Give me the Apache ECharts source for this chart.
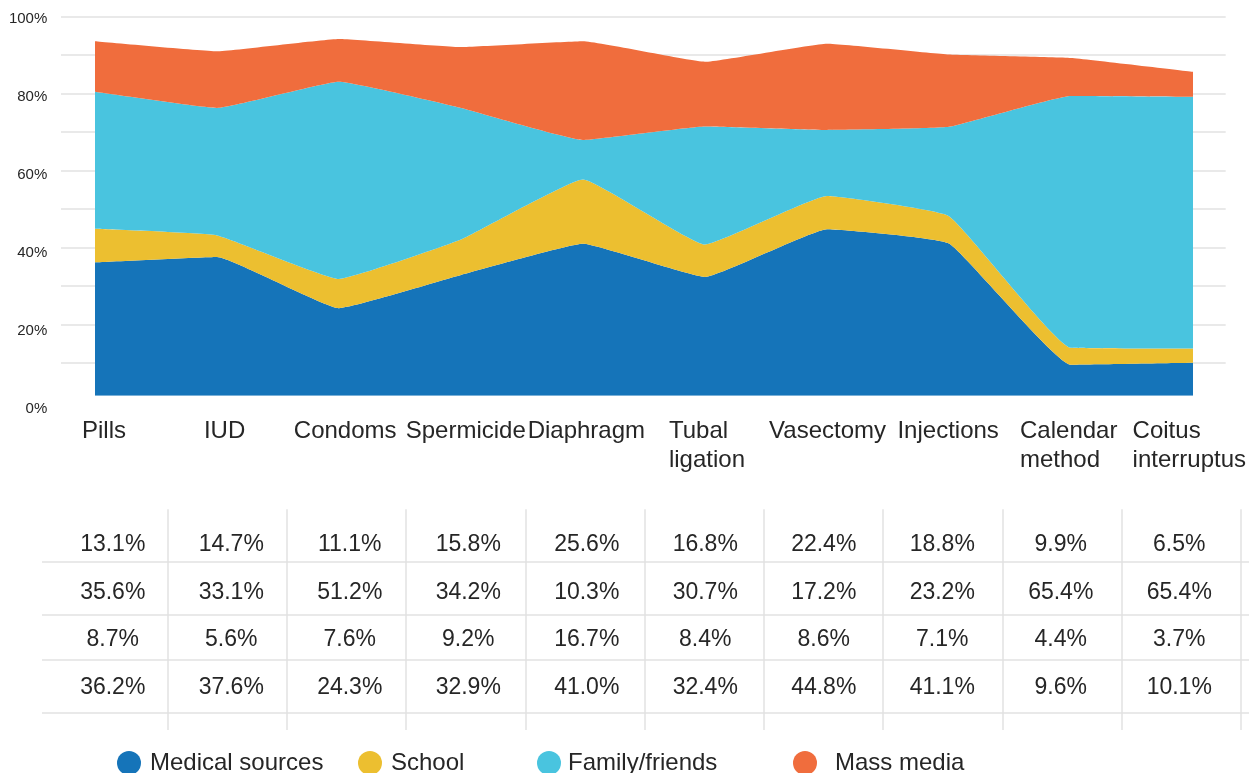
<!DOCTYPE html>
<html>
<head>
<meta charset="utf-8">
<script src="https://cdn.jsdelivr.net/npm/echarts@6/dist/echarts.min.js"></script>
<style>
  html, body { margin: 0; padding: 0; background: #ffffff; }
  #chart { width: 1249px; height: 773px; }
</style>
</head>
<body>
<div id="chart"></div>
<script>
// ---- data ----
const categories = ['Pills', 'IUD', 'Condoms', 'Spermicide', 'Diaphragm', 'Tubal\nligation', 'Vasectomy', 'Injections', 'Calendar\nmethod', 'Coitus\ninterruptus'];
const medicalSources = [36.2, 37.6, 24.3, 32.9, 41.0, 32.4, 44.8, 41.1, 9.6, 10.1];
const school         = [8.7, 5.6, 7.6, 9.2, 16.7, 8.4, 8.6, 7.1, 4.4, 3.7];
const familyFriends  = [35.6, 33.1, 51.2, 34.2, 10.3, 30.7, 17.2, 23.2, 65.4, 65.4];
const massMedia      = [13.1, 14.7, 11.1, 15.8, 25.6, 16.8, 22.4, 18.8, 9.9, 6.5];
const seriesNames = ['Medical sources', 'School', 'Family/friends', 'Mass media'];
const yTicks = [0, 20, 40, 60, 80, 100];

// ---- styles ----
const colors = ['#1574b9', '#ecbf30', '#49c4df', '#f06d3d'];
const FONT = '"Liberation Sans", Arial, Helvetica, sans-serif';
const TXT = '#262626';
const GRIDC = '#e2e2e2';

const seriesValues = [medicalSources, school, familyFriends, massMedia];
// table rows top -> bottom
const tableRows = [massMedia, familyFriends, school, medicalSources];
const tableRowNames = ['Mass media', 'Family/friends', 'School', 'Medical sources'];

const chart = echarts.init(document.getElementById('chart'), null, { renderer: 'canvas' });

const hiddenX = (gi) => ({ type: 'value', gridIndex: gi, show: false });
const hiddenY = (gi) => ({ type: 'value', gridIndex: gi, show: false });

const tableData = [];
tableRows.forEach((row, r) => row.forEach((v, c) => tableData.push([c, r, v])));

const areaSeries = seriesNames.map((name, i) => ({
  name: name,
  type: 'line',
  xAxisIndex: 2, yAxisIndex: 2,
  stack: 'total',
  smooth: 0.1,
  symbol: 'none',
  showSymbol: false,
  lineStyle: { width: 0, color: colors[i] },
  itemStyle: { color: colors[i] },
  areaStyle: { color: colors[i], opacity: 1 },
  data: seriesValues[i],
  z: 3 + i
}));

const legendLefts = [117, 358, 537, 793];
const legendPads = [4, 4, 2, 13];

const option = {
  animation: false,
  textStyle: { fontFamily: FONT, color: TXT },
  legend: seriesNames.map((n, i) => ({
    data: [n],
    left: legendLefts[i],
    top: 751,
    padding: 0,
    icon: 'circle',
    itemWidth: 24,
    itemHeight: 24,
    selectedMode: false,
    textStyle: { fontSize: 24, color: TXT, fontFamily: FONT, padding: [0, 0, 0, legendPads[i]] }
  })),
  grid: [
    { left: 61, right: 23.3, top: 16.7, height: 385 },        // 0 gridlines
    { left: 61, right: 23.3, top: 19.2, height: 389.8 },      // 1 y labels
    { left: 95, right: 56, top: 16.7, height: 379 },          // 2 areas
    { left: 104, right: 57, top: 16.7, height: 379 },         // 3 category labels
    { left: 48.5, width: 1192.2, top: 509.3, height: 220.7 }, // 4 vertical table lines
    { left: 42, right: 0, top: 561.3, height: 53 },           // 5 horizontal lines 1-2
    { left: 42, right: 0, top: 659.7, height: 53 },           // 6 horizontal lines 3-4
    { left: 53.5, width: 1185, top: 520.6, height: 191.2 }    // 7 table text
  ],
  xAxis: [
    hiddenX(0),
    hiddenX(1),
    { type: 'category', gridIndex: 2, data: categories, boundaryGap: false, show: false },
    { type: 'category', gridIndex: 3, data: categories, boundaryGap: false,
      axisLine: { show: false }, axisTick: { show: false }, splitLine: { show: false },
      axisLabel: {
        interval: 0, margin: 21, fontSize: 24, color: TXT, lineHeight: 29, fontFamily: FONT,
        formatter: (v) => v.split('\n').map(s => '{l|' + s + '}').join('\n'),
        rich: { l: { align: 'left', fontSize: 24, lineHeight: 29, color: TXT, fontFamily: FONT } }
      } },
    { type: 'category', gridIndex: 4, data: categories, boundaryGap: true,
      axisLine: { show: false }, axisTick: { show: false }, axisLabel: { show: false, interval: 0 },
      splitLine: { show: true, interval: 0, showMinLine: false, lineStyle: { color: GRIDC, width: 1.5 } } },
    hiddenX(5),
    hiddenX(6),
    { type: 'category', gridIndex: 7, data: categories, boundaryGap: true, show: false }
  ],
  yAxis: [
    { type: 'value', gridIndex: 0, min: 0, max: 100, interval: 10,
      axisLine: { show: false }, axisTick: { show: false }, axisLabel: { show: false },
      splitLine: { show: true, showMinLine: false, lineStyle: { color: GRIDC, width: 1.5 } } },
    { type: 'value', gridIndex: 1, min: 0, max: 100, interval: 20,
      axisLine: { show: false }, axisTick: { show: false }, splitLine: { show: false },
      axisLabel: { show: true, margin: 13.7, fontSize: 15, color: TXT, fontFamily: FONT,
        customValues: yTicks, formatter: '{value}%' } },
    { type: 'value', gridIndex: 2, min: 100 - 379 / 3.85, max: 100, show: false },
    hiddenY(3),
    hiddenY(4),
    { type: 'value', gridIndex: 5, min: 0, max: 1, interval: 1,
      axisLine: { show: false }, axisTick: { show: false }, axisLabel: { show: false },
      splitLine: { show: true, lineStyle: { color: GRIDC, width: 1.5 } } },
    { type: 'value', gridIndex: 6, min: 0, max: 1, interval: 1,
      axisLine: { show: false }, axisTick: { show: false }, axisLabel: { show: false },
      splitLine: { show: true, lineStyle: { color: GRIDC, width: 1.5 } } },
    { type: 'category', gridIndex: 7, data: tableRowNames, inverse: true, boundaryGap: true, show: false }
  ],
  series: areaSeries.concat([{
    name: 'table',
    type: 'scatter',
    xAxisIndex: 7, yAxisIndex: 7,
    symbol: 'rect',
    symbolSize: 1,
    itemStyle: { color: '#ffffff', opacity: 1 },
    silent: true,
    label: {
      show: true, position: 'inside', fontSize: 23, color: TXT, fontFamily: FONT,
      opacity: 1, textBorderWidth: 0,
      formatter: (p) => p.value[2].toFixed(1) + '%'
    },
    data: tableData
  }])
};

chart.setOption(option);
</script>
</body>
</html>
